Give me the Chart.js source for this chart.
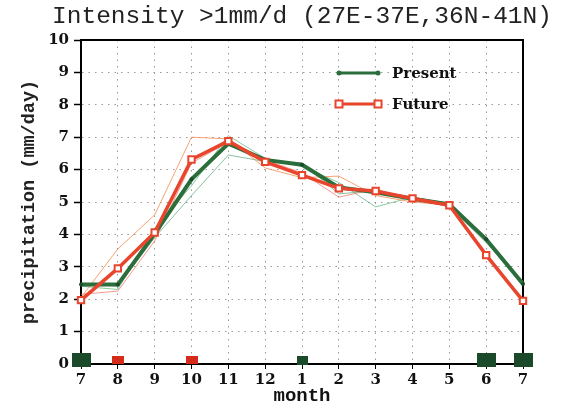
<!DOCTYPE html>
<html>
<head>
<meta charset="utf-8">
<script src="https://cdn.jsdelivr.net/npm/chart.js@4.4.0/dist/chart.umd.min.js"></script>
<style>
html,body{margin:0;padding:0;background:#fff}
#wrap{width:567px;height:403px}
</style>
</head>
<body>
<div id="wrap"><canvas id="c"></canvas></div>
<script>
/* data */
var titleText = "Intensity >1mm/d (27E-37E,36N-41N)";
var months = ["7","8","9","10","11","12","1","2","3","4","5","6","7"];
var present = [2.45,2.45,4.02,5.7,6.8,6.3,6.15,5.45,5.3,5.1,4.93,3.85,2.47];
var future  = [1.97,2.95,4.06,6.31,6.88,6.24,5.83,5.42,5.34,5.11,4.9,3.36,1.95];
// thin single runs behind the means
var presentRunA = [2.4,2.3,4.2,5.5,7.05,6.35,6.1,5.6,4.85,5.15,4.95,3.9,2.55];
var presentRunB = [2.5,2.4,3.9,5.2,6.45,6.25,6.2,5.25,5.35,5.1,4.85,3.75,2.45];
var futureRunA  = [2.05,3.55,4.6,7.0,6.95,6.05,5.75,5.8,5.2,5.0,4.9,3.3,2.0];
var futureRunB  = [2.15,2.25,3.8,6.2,6.85,6.3,5.9,5.15,5.4,5.05,4.95,3.3,2.0];
// significance boxes on the x axis: G big green, g small green, r small red
var signif = ["G","r",null,"r",null,null,"g",null,null,null,null,"G","G"];
var signifLevel = 0.12;
var yTicks = [0,1,2,3,4,5,6,7,8,9,10];

function box(w,h,col){
  var cv=document.createElement("canvas");
  cv.width=w;cv.height=h;
  var g=cv.getContext("2d");
  g.fillStyle=col;g.fillRect(0,0,w,h);
  return cv;
}
var boxes = {G:box(19,14,"#1b4a2b"), g:box(11,9,"#1b4a2b"), r:box(12,8,"#d52c1a")};

var GREEN="#2b6e3c", RED="#e8452c";

var framePlugin = {
  id:"frame",
  beforeDatasetsDraw:function(chart){
    var a=chart.chartArea, ctx=chart.ctx;
    ctx.save();
    ctx.strokeStyle="#000";ctx.lineWidth=2;
    ctx.strokeRect(a.left,a.top,a.right-a.left,a.bottom-a.top);
    // title, centred over the plot
    ctx.fillStyle="#222";ctx.font="24.5px 'Liberation Mono'";
    ctx.textAlign="center";ctx.textBaseline="middle";
    ctx.fillText(titleText,(a.left+a.right)/2,a.top-23);
    ctx.restore();
  },
  afterDatasetsDraw:function(chart){
    var a=chart.chartArea, ctx=chart.ctx;
    var items=[{t:"Present",c:GREEN,y:a.top+33,sq:false},{t:"Future",c:RED,y:a.top+64,sq:true}];
    ctx.save();
    items.forEach(function(it){
      var x1=a.left+258, x2=a.left+297;
      ctx.strokeStyle=it.c;ctx.lineWidth=3;
      ctx.beginPath();ctx.moveTo(x1,it.y);ctx.lineTo(x2,it.y);ctx.stroke();
      [x1,x2].forEach(function(x){
        if(it.sq){
          ctx.fillStyle="#fff";ctx.fillRect(x-3.5,it.y-3.5,7,7);
          ctx.lineWidth=2;ctx.strokeRect(x-3.5,it.y-3.5,7,7);
        }else{
          ctx.fillStyle=it.c;ctx.beginPath();ctx.arc(x,it.y,2.5,0,Math.PI*2);ctx.fill();
        }
      });
      ctx.fillStyle="#111";ctx.font="bold 15px 'DejaVu Serif'";
      ctx.textBaseline="middle";ctx.textAlign="left";
      ctx.fillText(it.t,a.left+311,it.y+1);
    });
    ctx.restore();
  }
};

function thin(data,col){
  return {data:data,borderColor:col,borderWidth:1,pointRadius:0,tension:0,fill:false};
}

new Chart(document.getElementById("c"), {
  type:"line",
  data:{
    labels:months,
    datasets:[
      {data:signif.map(function(k){return k?signifLevel:null;}),showLine:false,clip:false,
       pointStyle:function(ctx){return boxes[signif[ctx.dataIndex]]||"circle";},
       pointRadius:function(ctx){return signif[ctx.dataIndex]?5:0;}},
      {label:"Future",data:future,borderColor:RED,borderWidth:3.5,tension:0,clip:false,
       pointStyle:"rect",pointRadius:4.5,pointBackgroundColor:"#fff",pointBorderColor:RED,pointBorderWidth:2},
      {label:"Present",data:present,borderColor:GREEN,borderWidth:4,tension:0,
       pointStyle:"circle",pointRadius:2,pointBackgroundColor:"#1b4a2b",pointBorderWidth:0},
      thin(futureRunA,"rgba(245,140,80,0.8)"),
      thin(futureRunB,"rgba(240,110,90,0.7)"),
      thin(presentRunA,"rgba(90,180,120,0.7)"),
      thin(presentRunB,"rgba(60,150,100,0.6)")
    ]
  },
  options:{
    responsive:true,maintainAspectRatio:false,animation:false,devicePixelRatio:1,
    layout:{padding:{left:0,right:44,top:40,bottom:0}},
    plugins:{legend:{display:false},tooltip:{enabled:false}},
    scales:{
      x:{
        offset:false,
        afterFit:function(s){s.height=39;},
        grid:{color:"#999",lineWidth:1,tickLength:5,tickColor:"#000",tickWidth:1},
        border:{color:"#000",width:2,dash:[1.5,5]},
        ticks:{color:"#111",padding:2,maxRotation:0,autoSkip:false,
          font:{family:"'DejaVu Serif'",size:15,weight:"bold"}},
        title:{display:true,text:"month",color:"#111",padding:{top:0,bottom:-3},
          font:{family:"'Liberation Mono'",size:19,weight:"bold",lineHeight:1}}
      },
      y:{
        min:0,max:10,
        afterFit:function(s){s.width=81;},
        afterBuildTicks:function(s){s.ticks=yTicks.map(function(v){return {value:v};});},
        grid:{color:"#999",lineWidth:1,tickLength:7,tickColor:"#000",tickWidth:1.5},
        border:{color:"#000",width:2,dash:[1.5,5]},
        ticks:{color:"#111",padding:5,font:{family:"'DejaVu Serif'",size:15,weight:"bold"}},
        title:{display:true,text:"precipitation (mm/day)",color:"#222",padding:{top:18,bottom:0},
          font:{family:"'Liberation Mono'",size:18.5,weight:"bold",lineHeight:1.2}}
      }
    }
  },
  plugins:[framePlugin]
});
</script>
</body>
</html>
